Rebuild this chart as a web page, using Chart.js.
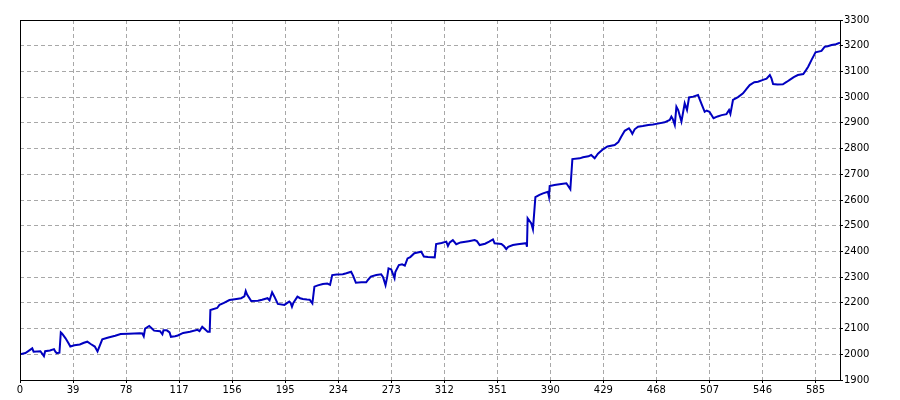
<!DOCTYPE html>
<html lang="en">
<head>
    <meta charset="UTF-8">
    <title>Balance</title>
    <script src="https://cdn.jsdelivr.net/npm/chart.js"></script>
    <style>
        body { margin: 0; background: #fff; }
        #box { width: 900px; height: 400px; }
    </style>
</head>
<body>
    <div id="box">
        <canvas id="chartBalance"></canvas>
    </div>
</body>
</html>
<script>
    // trade number / balance
    const trades = [0, 4, 9, 10, 15, 17.6, 18.5, 22, 25, 26, 27, 29, 30, 31, 33.5, 36, 37, 40, 44, 47, 49.5, 52, 55, 57, 60.5, 65, 70, 74, 80, 88, 90, 91, 92, 95, 97, 98.6, 103, 104.7, 105.5, 108, 110, 111, 114, 116, 120, 125, 130.5, 132, 134, 136, 138, 139.5, 140, 145, 146.7, 150, 154, 158, 162.6, 165, 166, 167, 170, 175, 178, 182, 183.5, 185.4, 187, 189.6, 194.5, 196, 198, 199, 200, 201, 204, 206, 208, 211, 213, 215, 216.5, 219, 222.7, 226, 228, 229.6, 233, 237.4, 240, 243.5, 245, 247, 251, 254.6, 256, 258, 262, 265.6, 267, 268.8, 270, 271, 273, 275.4, 276, 278.6, 281, 283, 285, 287, 290, 295, 296, 297, 300, 305, 306, 310, 313.5, 314.7, 316, 318.3, 320.8, 324, 330, 334.3, 336, 338, 342, 345, 347.8, 349, 354, 356, 357.6, 359, 362.5, 366, 372.3, 372.8, 373.3, 376, 377.2, 379, 382, 384.6, 388.2, 389, 389.5, 393, 398, 401.8, 404.7, 406.2, 411.6, 414, 418, 420, 422.6, 425, 428.7, 432, 437.3, 440, 442, 444.7, 447.8, 449, 450.3, 452, 454.5, 458, 462, 465.5, 470, 474, 477.8, 479, 480, 481.5, 482.7, 484, 486.4, 488.8, 490.5, 492, 495, 498.6, 501, 503.5, 505, 507, 510, 513, 516, 519.5, 521.4, 522.4, 524.3, 528, 531.7, 534, 536.6, 540, 542.7, 546.4, 549, 551.4, 552.6, 553.8, 557, 561, 564, 566, 569, 572, 576, 578, 579.6, 582, 585, 589.4, 591.8, 594, 596.8, 600, 603]
    const balance = [2000, 2005, 2023, 2010, 2012, 1993, 2012, 2015, 2020, 2010, 2004, 2006, 2085, 2080, 2062, 2040, 2030, 2035, 2038, 2045, 2049, 2040, 2030, 2011, 2058, 2065, 2072, 2079, 2080, 2082, 2081, 2070, 2100, 2110, 2100, 2092, 2090, 2078, 2093, 2093, 2085, 2068, 2070, 2073, 2083, 2088, 2095, 2090, 2107, 2097, 2088, 2088, 2172, 2180, 2192, 2200, 2211, 2214, 2218, 2225, 2246, 2232, 2207, 2208, 2212, 2218, 2210, 2241, 2225, 2196, 2192, 2198, 2205, 2200, 2185, 2200, 2224, 2218, 2215, 2213, 2212, 2198, 2263, 2268, 2273, 2275, 2270, 2308, 2310, 2311, 2315, 2321, 2305, 2278, 2280, 2280, 2290, 2302, 2308, 2311, 2300, 2269, 2300, 2334, 2330, 2296, 2320, 2347, 2350, 2345, 2373, 2378, 2393, 2399, 2390, 2380, 2378, 2377, 2429, 2433, 2438, 2421, 2435, 2444, 2428, 2435, 2440, 2444, 2440, 2425, 2430, 2438, 2447, 2432, 2429, 2420, 2409, 2418, 2425, 2428, 2432, 2418, 2529, 2509, 2486, 2611, 2620, 2626, 2632, 2613, 2654, 2658, 2662, 2665, 2642, 2759, 2762, 2766, 2770, 2775, 2762, 2780, 2797, 2808, 2814, 2825, 2845, 2869, 2879, 2870, 2857, 2875, 2885, 2888, 2892, 2894, 2898, 2902, 2911, 2924, 2915, 2892, 2963, 2950, 2905, 2976, 2950, 2999, 3002, 3008, 2976, 2943, 2948, 2943, 2918, 2925, 2930, 2934, 2950, 2935, 2989, 3000, 3015, 3030, 3047, 3058, 3060, 3067, 3072, 3086, 3073, 3051, 3049, 3050, 3060, 3067, 3078, 3086, 3090, 3105, 3118, 3144, 3174, 3180, 3196, 3198, 3203, 3206, 3212]

    const xTicks = [0, 39, 78, 117, 156, 195, 234, 273, 312, 351, 390, 429, 468, 507, 546, 585]
    const yMin = 1900
    const yMax = 3300
    const yStep = 100
    const xMax = 603

    const pontos = []
    for (let i = 0; i < trades.length; i++) {
        pontos.push({ x: trades[i], y: balance[i] })
    }

    // black frame round the plot
    const moldura = {
        id: 'moldura',
        afterDraw(chart) {
            const a = chart.chartArea
            const c = chart.ctx
            c.save()
            c.strokeStyle = '#000'
            c.lineWidth = 1
            c.strokeRect(Math.round(a.left) + 0.5, Math.round(a.top) + 0.5, Math.round(a.right - a.left), Math.round(a.bottom - a.top))
            c.restore()
        }
    }

    const fonte = { family: 'DejaVu Sans', size: 10 }

    const ctx = document.getElementById('chartBalance')

    const chart1 = new Chart(ctx, {
        type: 'line',
        data: {
            datasets: [{
                data: pontos,
                borderColor: '#0000c0',
                borderWidth: 2,
                pointRadius: 0,
                tension: 0,
                fill: false
            }]
        },
        options: {
            responsive: true,
            maintainAspectRatio: false,
            animation: false,
            layout: {
                padding: { left: 20, top: 20, right: 0, bottom: 0 }
            },
            plugins: {
                legend: { display: false },
                tooltip: { enabled: false }
            },
            scales: {
                x: {
                    type: 'linear',
                    min: 0,
                    max: xMax,
                    afterBuildTicks: (scale) => {
                        scale.ticks = xTicks.map(v => ({ value: v }))
                    },
                    afterFit: (scale) => { scale.height = 20 },
                    grid: {
                        color: '#a8a8a8',
                        tickColor: '#000',
                        tickLength: 3
                    },
                    border: { display: true, color: '#000', dash: [4, 3] },
                    ticks: {
                        color: '#000',
                        font: fonte,
                        padding: 1,
                        maxRotation: 0,
                        autoSkip: false,
                        callback: (v) => String(v)
                    }
                },
                y: {
                    position: 'right',
                    min: yMin,
                    max: yMax,
                    afterFit: (scale) => { scale.width = 60 },
                    grid: {
                        color: '#a8a8a8',
                        tickColor: '#000',
                        tickLength: 3
                    },
                    border: { display: true, color: '#000', dash: [4, 3] },
                    ticks: {
                        stepSize: yStep,
                        color: '#000',
                        font: fonte,
                        padding: 1,
                        callback: (v) => String(v)
                    }
                }
            }
        },
        plugins: [moldura]
    })
</script>
